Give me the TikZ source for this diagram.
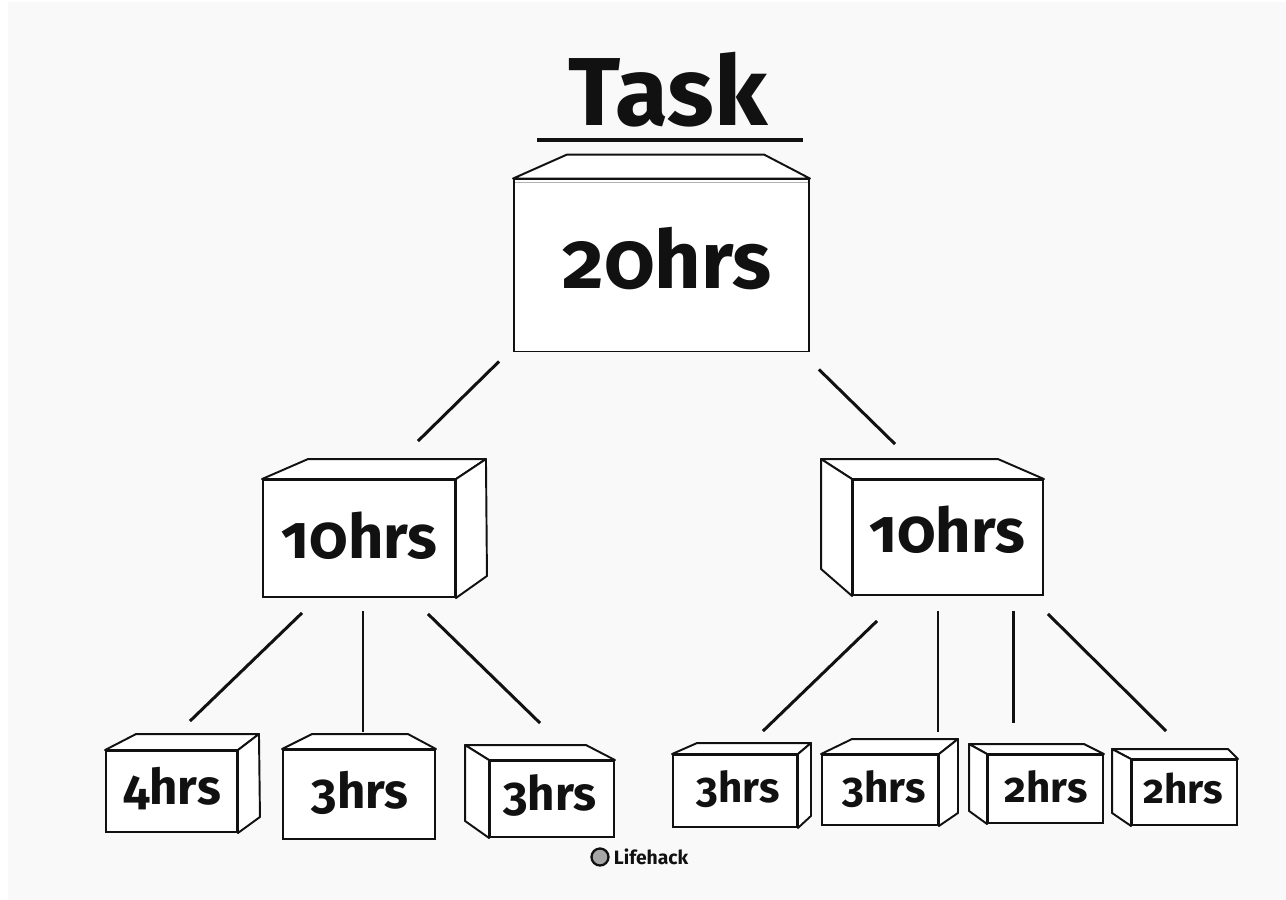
\documentclass[tikz,border=0pt]{standalone}
\usepackage{fontspec}
\setmainfont{Fira Sans}[Numbers=OldStyle]
\usetikzlibrary{calc}
\definecolor{paper}{HTML}{F9F9F9}
\definecolor{ink}{HTML}{111111}
\begin{document}
\begin{tikzpicture}[x=0.02cm,y=-0.02cm,
  face/.style 2 args={draw=ink, line width=1.1pt, fill=white, inner sep=0pt,
    minimum width=#1*0.02cm, minimum height=#2*0.02cm},
  edge/.style={draw=ink, line width=1.1pt, fill=white, line join=round},
  link/.style={draw=ink, line width=1.7pt},
  lbl/.style={text=ink, inner sep=0pt, anchor=base, font=\bfseries\fontsize{#1}{#1}\selectfont}]

% canvas
\useasboundingbox (0,0) rectangle (1286,900);
\fill[paper] (0,0) rectangle (1286,900);
\fill[white] (0,0) rectangle (8,900);
\fill[white] (0,0) rectangle (1286,2);

% title
\node[lbl=55] (title) at (668,125) {Task};
\draw[ink, line width=2.4pt] ($(title.base)+(-131,15)$) -- ($(title.base)+(135,15)$);

% root box
\node[face={295}{172}] (T) at (661.5,265.5) {};
\draw[edge] (T.north west) -- ++(54,-24) -- ($(T.north east)+(-46,-24)$) -- (T.north east) -- cycle;
\draw[gray!60, line width=0.8pt] ($(T.north west)+(2,4)$) -- ($(T.north east)+(-2,4)$);
\node[lbl=46] (tT) at (667,288) {20hrs};

% second level
\node[face={192}{117}] (ML) at (359,538.5) {};
\draw[edge] (ML.north west) -- ++(46,-20) -- ($(ML.north east)+(30,-20)$) -- (ML.north east) -- cycle;
\draw[edge] (ML.north east) -- ++(30,-20) -- ($(ML.south east)+(31,-22)$) -- (ML.south east) -- cycle;
\node[lbl=35] (tML) at (359.5,558) {10hrs};

\node[face={190}{115}] (MR) at (948,537.5) {};
\draw[edge] (MR.north west) -- ++(-31,-20) -- ($(MR.north east)+(-46,-20)$) -- (MR.north east) -- cycle;
\draw[edge] (MR.north west) -- ++(-31,-20) -- ($(MR.south west)+(-31,-27)$) -- (MR.south west) -- cycle;
\node[lbl=35] (tMR) at (947,552) {10hrs};

% leaves under the left branch
\node[face={131}{81}] (A) at (171.5,791.5) {};
\draw[edge] (A.north west) -- ++(31,-16) -- ($(A.north east)+(21,-16)$) -- (A.north east) -- cycle;
\draw[edge] (A.north east) -- ++(21,-16) -- ($(A.south east)+(22,-16)$) -- (A.south east) -- cycle;
\node[lbl=28] (tA) at (172,804) {4hrs};

\node[face={152}{89}] (B) at (359,794.5) {};
\draw[edge] (B.north west) -- ++(30,-15) -- ($(B.north east)+(-28,-15)$) -- (B.north east) -- cycle;
\node[lbl=28] (tB) at (360,808) {3hrs};

\node[face={124}{76}] (C) at (552,799) {};
\draw[edge] (C.north west) -- ++(-24,-15) -- ($(C.north east)+(-29,-15)$) -- (C.north east) -- cycle;
\draw[edge] (C.north west) -- ++(-24,-15) -- ($(C.south west)+(-24,-17)$) -- (C.south west) -- cycle;
\node[lbl=27] (tC) at (550,810) {3hrs};

% leaves under the right branch
\node[face={124}{72}] (D) at (735,791) {};
\draw[edge] (D.north west) -- ++(25,-11) -- ($(D.north east)+(13,-11)$) -- (D.north east) -- cycle;
\draw[edge] (D.north east) -- ++(13,-11) -- ($(D.south east)+(13,-12)$) -- (D.south east) -- cycle;
\node[lbl=24] (tD) at (738,802) {3hrs};

\node[face={116}{70}] (E) at (880,790) {};
\draw[edge] (E.north west) -- ++(31,-15) -- ($(E.north east)+(19,-15)$) -- (E.north east) -- cycle;
\draw[edge] (E.north east) -- ++(19,-15) -- ($(E.south east)+(19,-13)$) -- (E.south east) -- cycle;
\node[lbl=24] (tE) at (884,802) {3hrs};

\node[face={115}{68}] (F) at (1045.5,789) {};
\draw[edge] (F.north west) -- ++(-18,-10) -- ($(F.north east)+(-20,-10)$) -- (F.north east) -- cycle;
\draw[edge] (F.north west) -- ++(-18,-10) -- ($(F.south west)+(-18,-13)$) -- (F.south west) -- cycle;
\node[lbl=24] (tF) at (1046,802) {2hrs};

\node[face={105}{65}] (G) at (1184.5,792.5) {};
\draw[edge] (G.north west) -- ++(-19,-10) -- ($(G.north east)+(-10,-10)$) -- (G.north east) -- cycle;
\draw[edge] (G.north west) -- ++(-19,-10) -- ($(G.south west)+(-19,-13)$) -- (G.south west) -- cycle;
\node[lbl=23] (tG) at (1183,803) {2hrs};

% connectors
\draw[link] ($(T.south west)+(-14,9)$) -- ($(ML.north)+(59,-38)$);
\draw[link] ($(T.south east)+(9,17)$) -- ($(MR.north)+(-53,-35)$);
\draw[link] ($(ML.south)+(-57,15)$) -- ($(A.north)+(18.5,-29)$);
\draw[link] ($(ML.south)+(4,13)$) -- ($(B.north)+(4,-17)$);
\draw[link] ($(ML.south)+(69,16)$) -- ($(C.north)+(-12,-37)$);
\draw[link] ($(MR.south)+(-71,25)$) -- ($(D.north)+(28,-23)$);
\draw[link] ($(MR.south)+(-10,15)$) -- ($(E.north)+(58,-22)$);
\draw[link] ($(MR.south)+(65,15)$) -- ($(F.north)+(-32.5,-31)$);
\draw[link] ($(MR.south)+(100,18)$) -- ($(G.north)+(-18.5,-28)$);

% credit line
\node[circle, draw=ink, line width=1.3pt, fill=gray!70, minimum size=0.34cm, inner sep=0pt] (logo) at (600,857) {};
\node[lbl=11, anchor=west] (credit) at ($(logo.east)+(4,0)$) {Lifehack};
\end{tikzpicture}
\end{document}
